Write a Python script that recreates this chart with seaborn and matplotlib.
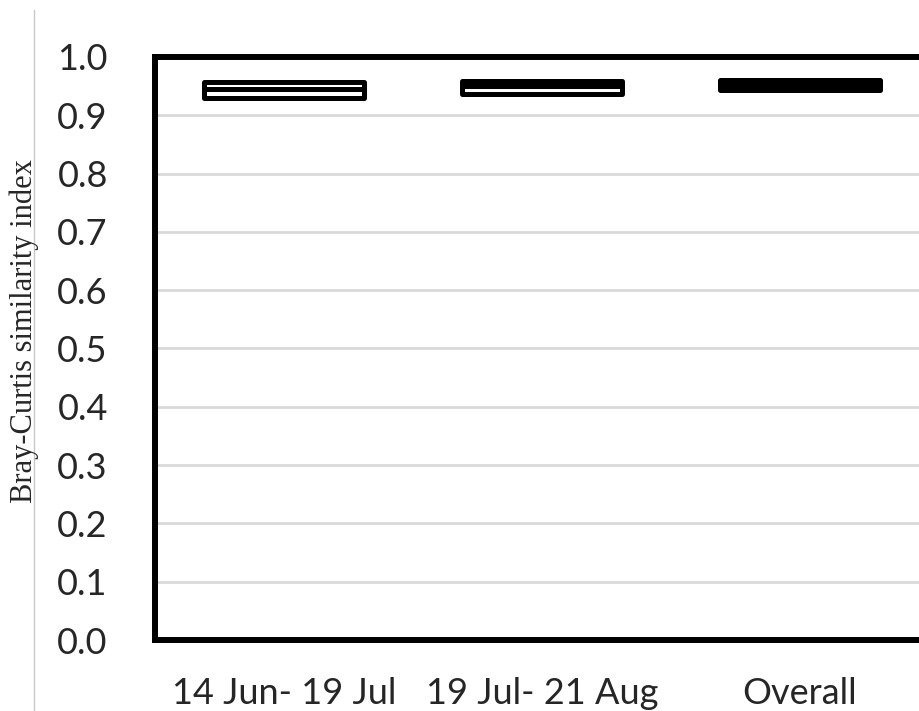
import pandas as pd
import matplotlib
matplotlib.use('Agg')
import matplotlib.pyplot as plt
from matplotlib.lines import Line2D
import seaborn as sns

# box summaries (lower quartile, median, upper quartile)
periods = ['14 Jun- 19 Jul', '19 Jul- 21 Aug', 'Overall']
q1 = [0.929, 0.937, 0.943]
median = [0.945, 0.951, 0.952]
q3 = [0.957, 0.958, 0.961]
yticks = [0.0, 0.1, 0.2, 0.3, 0.4, 0.5, 0.6, 0.7, 0.8, 0.9, 1.0]

# five points per period give exactly those quartiles
rows = []
for p, a, m, b in zip(periods, q1, median, q3):
    for v in [a, a, m, b, b]:
        rows.append((p, v))
df = pd.DataFrame(rows, columns=['period', 'similarity'])

sns.set_style('white')
plt.rcParams['font.family'] = ['Lato', 'DejaVu Sans']

fig = plt.figure(figsize=(9.19, 7.11), dpi=100)
ax = fig.add_axes([155 / 919, 1 - 640 / 711, 774 / 919, 583 / 711])

sns.boxplot(data=df, x='period', y='similarity', order=periods, ax=ax,
            width=0.62, color='white', linecolor='black', linewidth=3.6,
            whis=0, showcaps=False, showfliers=False,
            boxprops={'joinstyle': 'round'},
            medianprops={'solid_capstyle': 'butt'})

ax.set_xlim(-0.5, 2.5)
ax.set_ylim(0, 1)
ax.set_yticks(yticks)
ax.set_yticklabels([f'{t:.1f}' for t in yticks])
for t in yticks[1:-1]:
    ax.axhline(t, color='#d9d9d9', lw=2, zorder=0)

for s in ax.spines.values():
    s.set_visible(True)
    s.set_color('black')
    s.set_linewidth(4.3)
ax.tick_params(axis='both', length=0, labelsize=26, colors='#262626')
ax.tick_params(axis='y', pad=34)
ax.tick_params(axis='x', pad=27)
ax.set_xlabel('')
ax.set_ylabel('')

fig.text(24 / 919, 1 - 331 / 711, 'Bray-Curtis similarity index', rotation=90,
         ha='center', va='center', fontsize=22, family='Liberation Serif')
fig.add_artist(Line2D([34 / 919, 34 / 919], [0, 1 - 10 / 711],
                      color='#c8c8c8', lw=1, transform=fig.transFigure))

fig.savefig('out.png', dpi=100)
